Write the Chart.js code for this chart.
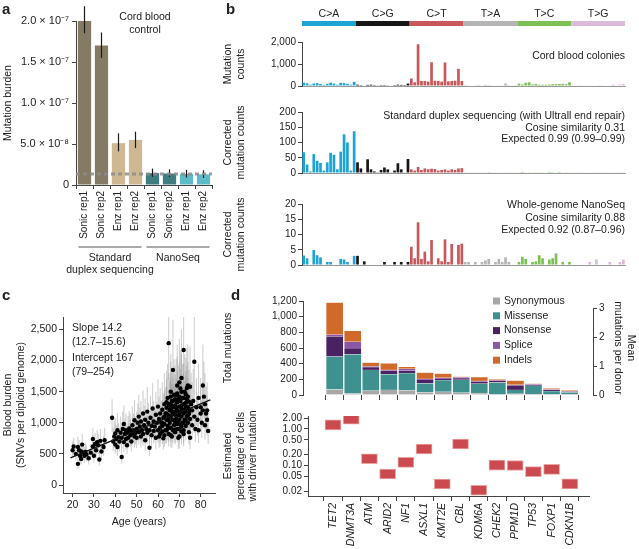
<!DOCTYPE html>
<html>
<head>
<meta charset="utf-8">
<script src="https://cdn.jsdelivr.net/npm/chart.js@4.4.1/dist/chart.umd.min.js"></script>
<style>
body { margin: 0; background: #fff; font-family: "Liberation Sans", Arial, sans-serif; color: #222; }
#fig { position: relative; width: 639px; height: 549px; overflow: hidden; }
canvas { position: absolute; }
.t { position: absolute; font-size: 10.5px; line-height: 13px; white-space: nowrap; }
.r { text-align: right; }
.p { position: absolute; font-weight: bold; font-size: 15px; line-height: 15px; }
</style>
</head>
<body>
<div id="fig">
  <canvas id="ca" width="220" height="285" style="left:0;top:0;width:220px;height:285px"></canvas>
  <canvas id="cb1" width="419" height="95" style="left:220px;top:0;width:419px;height:95px"></canvas>
  <canvas id="cb2" width="419" height="95" style="left:220px;top:95px;width:419px;height:95px"></canvas>
  <canvas id="cb3" width="419" height="95" style="left:220px;top:190px;width:419px;height:95px"></canvas>
  <canvas id="cc" width="220" height="245" style="left:0;top:285px;width:220px;height:245px"></canvas>
  <canvas id="cd1" width="419" height="118" style="left:220px;top:285px;width:419px;height:118px"></canvas>
  <canvas id="cd2" width="419" height="149" style="left:220px;top:400px;width:419px;height:149px"></canvas>

  <div class="p" style="left:2px;top:1px">a</div>
  <div class="p" style="left:226px;top:1px">b</div>
  <div class="p" style="left:2px;top:287px">c</div>
  <div class="p" style="left:231px;top:287px">d</div>

  <div class="t" style="left:100px;top:10px;width:90px;text-align:center">Cord blood<br>control</div>
  <div class="t r" style="right:14px;top:49px">Cord blood colonies</div>
  <div class="t r" style="right:14px;top:110px;line-height:11.7px">Standard duplex sequencing (with Ultrall end repair)<br>Cosine similarity 0.31<br>Expected 0.99 (0.99–0.99)</div>
  <div class="t r" style="right:14px;top:198px;line-height:12.5px">Whole-genome NanoSeq<br>Cosine similarity 0.88<br>Expected 0.92 (0.87–0.96)</div>
  <div class="t" style="left:72px;top:320px;line-height:14px">Slope 14.2<br>(12.7–15.6)</div>
  <div class="t" style="left:72px;top:350px;line-height:14px">Intercept 167<br>(79–254)</div>
</div>

<script>
// ---- panel a: mutation burden, cord blood control
const aLabels = ['Sonic rep1', 'Sonic rep2', 'Enz rep1', 'Enz rep2', 'Sonic rep1', 'Sonic rep2', 'Enz rep1', 'Enz rep2'];
const aBurden = [2.02e-7, 1.70e-7, 5.1e-8, 5.5e-8, 1.45e-8, 1.40e-8, 1.35e-8, 1.30e-8];
const aLow = [1.85e-7, 1.55e-7, 4.1e-8, 4.5e-8, 1.0e-8, 1.0e-8, 0.9e-8, 0.85e-8];
const aHigh = [2.18e-7, 1.86e-7, 6.3e-8, 6.5e-8, 2.0e-8, 1.9e-8, 1.85e-8, 1.8e-8];
const aColors = ['#857a64', '#857a64', '#cdb891', '#cdb891', '#3f7c80', '#3f7c80', '#5cbcc8', '#5cbcc8'];
const aTickLabels = ['0', '5.0 × 10⁻⁸', '1.0 × 10⁻⁷', '1.5 × 10⁻⁷', '2.0 × 10⁻⁷'];
const nanoSeqLevel = 1.35e-8;
const aGroups = [
  { from: 0, to: 3, text: ['Standard', 'duplex sequencing'] },
  { from: 4, to: 7, text: ['NanoSeq'] }
];

// ---- panel b: 96-channel spectra
const mutTypes = ['C>A', 'C>G', 'C>T', 'T>A', 'T>C', 'T>G'];
const typeColors = ['#1ea3d5', '#161616', '#c8585b', '#b5b5b5', '#7cc056', '#dbbadb'];
const cordCounts = [
  [150, 120, 60, 110, 130, 90, 50, 100, 150, 110, 60, 140, 130, 100, 60, 190],
  [60, 40, 20, 50, 60, 40, 30, 40, 40, 30, 20, 40, 60, 50, 40, 110],
  [340, 170, 1900, 230, 230, 200, 1080, 240, 230, 200, 1070, 210, 230, 240, 780, 230],
  [40, 30, 20, 30, 40, 30, 50, 40, 30, 20, 30, 30, 110, 40, 30, 40],
  [110, 70, 150, 170, 70, 90, 60, 60, 60, 70, 80, 80, 90, 100, 80, 170],
  [30, 20, 10, 30, 20, 30, 20, 20, 10, 30, 20, 20, 60, 30, 70, 100]
];
const duplexCounts = [
  [68, 28, 5, 62, 40, 33, 8, 35, 66, 60, 12, 70, 127, 100, 8, 137],
  [35, 15, 2, 45, 12, 5, 1, 10, 18, 12, 2, 8, 32, 12, 2, 46],
  [12, 8, 20, 10, 15, 12, 14, 13, 8, 10, 12, 8, 12, 10, 15, 16],
  [2, 1, 1, 2, 1, 1, 2, 3, 1, 1, 2, 1, 2, 1, 1, 2],
  [2, 3, 2, 1, 2, 1, 1, 2, 2, 3, 1, 2, 3, 2, 1, 2],
  [1, 1, 1, 1, 1, 2, 1, 1, 1, 1, 1, 1, 1, 1, 1, 1]
];
const nanoCounts = [
  [3.1, 2.2, 0, 4.9, 3.2, 2.5, 0, 1, 1, 0, 0, 2, 1.8, 1, 0, 3],
  [3, 0, 1.2, 0, 0, 0, 0, 0, 1, 0, 0, 1, 0, 1, 0, 1],
  [6, 2.2, 14, 2, 4.4, 1.2, 8.2, 0, 2.2, 1.2, 8.4, 1, 6.9, 0, 6.6, 7],
  [1, 1, 0, 1, 0, 1, 1.5, 2, 0, 1, 2, 1, 2.5, 1, 0, 0],
  [1, 2.7, 2, 0, 1, 1.2, 3.2, 2.2, 0, 1.8, 2.2, 3.8, 0, 1, 0, 1],
  [0, 0, 0, 0, 0, 1, 0, 1.8, 0, 0, 0, 1, 0, 0, 1, 1.8]
];
const bases = ['A', 'C', 'G', 'T'];

// ---- panel c: blood burden vs age  [age, burden, ciLow, ciHigh]
const cDonors = [
  [20,560,450,700],[20.5,620,500,760],[21.5,500,400,640],[22.5,340,260,470],[22.5,610,480,780],[23,560,440,720],[23.5,470,360,640],[24,420,330,560],[24,540,420,690],[24.5,650,510,820],[25,520,400,660],[25.5,470,360,610],[26,530,410,680],[26.5,490,380,640],[27.5,430,330,560],[28.5,520,400,660],[29.5,740,580,920],[29.5,620,480,800],[30,470,360,620],[30.5,660,510,840],[31,560,430,720],[31.5,690,540,880],[32,640,500,820],[32.5,410,310,560],[33,710,550,900],[33.5,540,420,700],[34.5,610,470,790],[35,720,560,920],
  [38.5,1080,850,1380],[39,700,540,920],[39.5,780,600,1020],[40,650,500,860],[40,830,640,1080],[40.5,740,570,960],[41,880,680,1150],[41,610,470,800],[41.5,770,600,1000],[42,700,540,920],[42.5,840,650,1100],[43,450,340,620],[43,760,590,990],[43.5,900,700,1180],[44,980,760,1280],[44,690,530,900],[44.5,820,640,1070],[45,880,680,1150],[45,740,570,970],[45.5,640,490,840],[46,850,660,1110],[46,760,590,990],[46.5,910,700,1190],[47,800,620,1050],[47,880,680,1150],[47.5,700,540,920],[48,830,640,1090],[48,960,740,1260],[48.5,880,680,1150],[49,780,600,1020],[49,1040,800,1370],[49.5,840,650,1100],[50,900,690,1180],[50,760,590,990],[50.5,1000,770,1310],
  [51,850,650,1120],[51,1100,850,1450],[51.5,940,720,1240],[52,780,600,1030],[52,1020,780,1350],[52.5,880,680,1160],[53,1150,880,1520],[53,820,630,1080],[53.5,960,740,1270],[54,720,550,950],[54,1050,810,1390],[54.5,900,690,1190],[55,840,650,1110],[55,1180,900,1570],[55.5,1000,770,1320],[56,600,460,800],[56,880,680,1160],[56.5,1080,830,1430],[57,950,730,1260],[57,800,620,1060],[57.5,1230,940,1640],[58,870,670,1150],[58,1020,780,1350],[58.5,940,720,1250],[59,760,580,1010],[59,1130,870,1500],[59.5,1000,770,1330],[60,880,680,1170],[60,1260,960,1700],[60.5,1060,810,1420],[60.5,780,600,1040],
  [61,1150,880,1560],[61,920,700,1240],[61.5,1000,760,1360],[62,1210,920,1650],[62,860,660,1160],[62.5,1080,820,1470],[62.5,750,570,1010],[63,1300,990,1800],[63,980,750,1330],[63.5,1150,880,1570],[63.5,880,670,1190],[64,1050,800,1430],[64,1240,940,1700],[64.5,950,720,1290],[64.5,1400,1060,1950],[65,2280,1700,2700],[65,1120,850,1540],[65,820,620,1110],[65.5,1200,910,1650],[65.5,1000,760,1370],[66,1300,990,1800],[66,920,700,1250],[66,1100,840,1510],[66.5,1180,900,1620],[66.5,780,590,1060],[67,1850,1400,2650],[67,1250,950,1720],[67,1050,800,1440],[67.5,1160,880,1600],[67.5,960,730,1310],[68,1380,1050,1920],[68,1130,860,1550],[68,890,680,1210],[68.5,1240,940,1710],[68.5,1060,810,1450],[69,1200,910,1650],[69,1470,1120,2060],[69,980,750,1340],[69.5,1120,850,1540],[69.5,760,580,1030],[70,1650,1250,2350],[70,1260,960,1740],[70,1050,800,1440],[70,900,690,1230],[70.5,1180,900,1630],[70.5,1350,1030,1870],[71,1720,1300,2500],[71,1100,840,1510],[71,1230,940,1700],[71.5,1000,760,1370],[71.5,1400,1060,1950],[72,2170,1650,2700],[72,1150,880,1580],[72,1300,990,1800],[72,880,670,1200],[72.5,1210,920,1670],[72.5,1050,800,1440],[73,1460,1110,2040],[73,1180,900,1620],[73,950,720,1300],[73.5,1560,1180,2200],[73.5,1100,840,1510],[74,1600,1210,2260],[74,1250,950,1720],[74,1000,760,1370],[74.5,1340,1020,1850],[74.5,850,650,1160],[75,1580,1200,2230],[75,1200,910,1650],[75,1060,810,1450],[75,760,580,1030],[75.5,1300,990,1800],
  [63,1100,840,1510],[64,1150,870,1580],[65,1300,990,1800],[66,1220,930,1680],[67,1350,1030,1870],[68,1280,970,1770],[69,1330,1010,1840],[70,1150,870,1580],[71,1280,970,1770],[72,1400,1060,1950],[73,1320,1000,1830],[74,1120,850,1540],[68,1020,780,1400],[70,1420,1080,1980],[66,1420,1080,1980],[69,1050,800,1440],[71,940,720,1280],[73,1050,800,1440],[65,1050,800,1440],[67,1150,870,1580],[64,1330,1010,1840],[62,1000,760,1370],[70,980,750,1340],[72,1000,760,1370],[68,1180,900,1620],[74,1420,1080,1980],[71,1500,1140,2100],[69,1600,1220,2250],[66,1500,1140,2100],[73,1260,960,1740],[66,800,610,1090],[68,850,650,1160],[70,780,590,1060],[72,820,620,1120],[61,820,620,1110],[63,800,610,1090],[65,920,700,1250],[67,880,670,1200],[69,900,690,1230],[71,860,650,1170],[62,950,720,1290],[64,880,670,1200],
  [67.5,1450,1100,2020],[70.5,1550,1180,2170],[72.5,1500,1140,2100],[74.5,1150,870,1580],[66.5,1350,1030,1870],[69.5,1380,1050,1920],[71.5,1200,910,1650],[73.5,1380,1050,1920],[65.5,1250,950,1720],[68.5,1450,1100,2020],
  [76,1200,910,1650],[76,960,730,1310],[76.5,1350,1030,1870],[77,1980,1500,2700],[77,1100,840,1510],[77.5,900,690,1230],[78,1250,950,1720],[78.5,1050,800,1440],[79,1400,1060,1950],[79,880,670,1200],[80,1150,870,1580],[80,1250,950,1720],[80.5,1000,760,1370],[81,1600,1210,2260],[81,1200,910,1650],[81.5,1420,1080,1980],[82,960,730,1310],[82,1300,990,1800],[82.5,1150,870,1580],[83,1200,910,1650],[83,1050,800,1440],[83.5,870,660,1190]
];
const cFit = [[19, 437], [84.5, 1367]];
const cAgeTicks = [20, 30, 40, 50, 60, 70, 80];
const cBurdenTicks = [0, 500, 1000, 1500, 2000, 2500];

// ---- panel d: driver genes
const genes = ['TET2', 'DNMT3A', 'ATM', 'ARID2', 'NF1', 'ASXL1', 'KMT2E', 'CBL', 'KDM6A', 'CHEK2', 'PPM1D', 'TP53', 'FOXP1', 'CDKN1B'];
const mutClasses = ['Synonymous', 'Missense', 'Nonsense', 'Splice', 'Indels'];
const classColors = ['#a8a8a8', '#3f918f', '#4a2161', '#8b55a8', '#d06a2b'];
const synonymous = [70, 20, 55, 65, 60, 35, 40, 30, 25, 10, 15, 10, 10, 10];
const missense = [420, 500, 265, 200, 220, 115, 150, 165, 120, 150, 50, 110, 40, 25];
const nonsense = [260, 80, 35, 45, 30, 45, 15, 20, 25, 20, 55, 10, 15, 5];
const splice = [20, 80, 10, 10, 25, 10, 15, 10, 10, 5, 10, 5, 5, 5];
const indels = [410, 140, 50, 85, 25, 80, 55, 10, 50, 15, 55, 10, 15, 15];
const meanScale = 368;   // total mutations per 1 mean mutation per donor
const meanTicks = [0, 1, 2, 3];
const cellLow = [0.95, 1.35, 0.112, 0.043, 0.089, 0.207, 0.0227, 0.283, 0.0153, 0.075, 0.073, 0.0494, 0.0573, 0.0228];
const cellHigh = [1.77, 2.53, 0.21, 0.08, 0.167, 0.388, 0.0426, 0.532, 0.0286, 0.141, 0.137, 0.0927, 0.1075, 0.0429];
const cellTicks = [0.02, 0.05, 0.1, 0.2, 0.5, 1, 2];

// ---- shared defaults
Chart.defaults.font.family = '"Liberation Sans", Arial, sans-serif';
Chart.defaults.font.size = 10;
Chart.defaults.color = '#222';
Chart.defaults.plugins.legend.display = false;
Chart.defaults.plugins.tooltip.enabled = false;
Chart.defaults.animation = false;
Chart.defaults.responsive = false;
Chart.defaults.events = [];

const axisCol = '#444';
const fmt = v => v.toLocaleString('en-US');
const tickGrid = { drawOnChartArea: false, tickLength: 4, color: axisCol, lineWidth: 1 };
const title = (text) => ({ display: true, text: text, font: { size: 10.5 }, padding: { top: 2, bottom: 2 } });

// panel a
const aExtras = {
  id: 'aExtras',
  afterDatasetsDraw(chart) {
    const { ctx, chartArea, scales: { x, y } } = chart;
    ctx.save();
    ctx.strokeStyle = '#1a1a1a';
    ctx.lineWidth = 1.2;
    aLow.forEach((lo, i) => {
      const px = x.getPixelForValue(i);
      ctx.beginPath();
      ctx.moveTo(px, y.getPixelForValue(lo));
      ctx.lineTo(px, y.getPixelForValue(aHigh[i]));
      ctx.stroke();
    });
    ctx.strokeStyle = 'rgba(140,140,140,0.85)';
    ctx.lineWidth = 3;
    ctx.setLineDash([4, 3]);
    const ny = y.getPixelForValue(nanoSeqLevel);
    ctx.beginPath();
    ctx.moveTo(chartArea.left, ny);
    ctx.lineTo(chartArea.right, ny);
    ctx.stroke();
    ctx.setLineDash([]);
    // group brackets under the labels
    ctx.strokeStyle = '#555';
    ctx.lineWidth = 1;
    ctx.fillStyle = '#222';
    ctx.font = '10.5px "Liberation Sans", Arial, sans-serif';
    ctx.textAlign = 'center';
    ctx.textBaseline = 'middle';
    const ly = chartArea.bottom + 62;
    aGroups.forEach(g => {
      const x0 = x.getPixelForValue(g.from) - 6, x1 = x.getPixelForValue(g.to) + 6;
      ctx.beginPath();
      ctx.moveTo(x0, ly);
      ctx.lineTo(x1, ly);
      ctx.stroke();
      g.text.forEach((t, k) => ctx.fillText(t, (x0 + x1) / 2, ly + 11 + k * 12));
    });
    ctx.restore();
  }
};

new Chart(document.getElementById('ca'), {
  type: 'bar',
  data: { labels: aLabels, datasets: [{ data: aBurden, backgroundColor: aColors, barPercentage: 0.78, categoryPercentage: 1 }] },
  options: {
    layout: { padding: { top: 21, right: 8, left: 0, bottom: 0 }, autoPadding: false },
    scales: {
      x: {
        grid: tickGrid, border: { color: axisCol },
        ticks: { minRotation: 90, maxRotation: 90, autoSkip: false, padding: 2 },
        afterFit: s => { s.height = 100; }
      },
      y: {
        min: 0, max: 2e-7,
        afterBuildTicks: s => { s.ticks = aTickLabels.map((t, i) => ({ value: i * 5e-8 })); },
        ticks: { callback: (v, i) => aTickLabels[i], padding: 3, autoSkip: false, font: { size: 11 } },
        grid: tickGrid, border: { color: axisCol },
        title: title('Mutation burden'),
        afterFit: s => { s.width = 76; }
      }
    }
  },
  plugins: [aExtras]
});

// panel b
const contexts = [];
mutTypes.forEach(t => bases.forEach(b5 => bases.forEach(b3 => contexts.push(b5 + '[' + t + ']' + b3))));
const barColors = contexts.map((c, i) => typeColors[Math.floor(i / 16)]);

const strip = {
  id: 'strip',
  afterDraw(chart) {
    const { ctx, scales: { x } } = chart;
    const half = (x.getPixelForValue(1) - x.getPixelForValue(0)) / 2;
    ctx.save();
    ctx.font = '10.5px "Liberation Sans", Arial, sans-serif';
    ctx.textAlign = 'center';
    ctx.textBaseline = 'middle';
    mutTypes.forEach((t, k) => {
      const x0 = x.getPixelForValue(k * 16) - half, x1 = x.getPixelForValue(k * 16 + 15) + half;
      ctx.fillStyle = typeColors[k];
      ctx.fillRect(x0, 21, x1 - x0, 5);
      ctx.fillStyle = '#222';
      ctx.fillText(t, (x0 + x1) / 2, 14);
    });
    ctx.restore();
  }
};

function spectrum(id, values, yMax, step, padTop, xH, yTitle, extra) {
  return new Chart(document.getElementById(id), {
    type: 'bar',
    data: { labels: contexts, datasets: [{ data: values.flat(), backgroundColor: barColors, barPercentage: 0.8, categoryPercentage: 1 }] },
    options: {
      layout: { padding: { top: padTop, right: 14, left: 0, bottom: 0 }, autoPadding: false },
      scales: {
        x: { grid: { display: false }, border: { display: true, color: '#999' }, ticks: { display: false }, afterFit: s => { s.height = xH; } },
        y: {
          min: 0, max: yMax, ticks: { stepSize: step, padding: 2, callback: fmt, autoSkip: false },
          grid: tickGrid, border: { color: axisCol },
          title: title(yTitle),
          afterFit: s => { s.width = 82; }
        }
      }
    },
    plugins: extra ? [extra] : []
  });
}
spectrum('cb1', cordCounts, 2000, 1000, 42, 9, ['Mutation', 'counts'], strip);
spectrum('cb2', duplexCounts, 200, 50, 17, 17, ['Corrected', 'mutation counts']);
spectrum('cb3', nanoCounts, 20, 5, 14, 20, ['Corrected', 'mutation counts']);

// panel c
const cErrors = {
  id: 'cErrors',
  beforeDatasetsDraw(chart) {
    const { ctx, chartArea, scales: { x, y } } = chart;
    ctx.save();
    ctx.beginPath();
    ctx.rect(chartArea.left, chartArea.top, chartArea.right - chartArea.left, chartArea.bottom - chartArea.top);
    ctx.clip();
    ctx.strokeStyle = 'rgba(150,150,150,0.45)';
    ctx.lineWidth = 1.1;
    cDonors.forEach(d => {
      const px = x.getPixelForValue(d[0]);
      ctx.beginPath();
      ctx.moveTo(px, y.getPixelForValue(d[2]));
      ctx.lineTo(px, y.getPixelForValue(d[3]));
      ctx.stroke();
    });
    ctx.restore();
  }
};

new Chart(document.getElementById('cc'), {
  type: 'scatter',
  data: {
    datasets: [
      { type: 'line', data: cFit.map(p => ({ x: p[0], y: p[1] })), borderColor: '#111', borderWidth: 1.3, pointRadius: 0 },
      { data: cDonors.map(d => ({ x: d[0], y: d[1] })), backgroundColor: '#000', borderWidth: 0, pointRadius: 2.2 }
    ]
  },
  options: {
    layout: { padding: { top: 32, right: 5, left: 0, bottom: 0 }, autoPadding: false },
    scales: {
      x: {
        type: 'linear', min: 15.5, max: 86.7,
        afterBuildTicks: s => { s.ticks = cAgeTicks.map(v => ({ value: v })); },
        ticks: { padding: 2, autoSkip: false, font: { size: 10.5 } },
        grid: tickGrid, border: { color: axisCol },
        title: title('Age (years)'),
        afterFit: s => { s.height = 37; }
      },
      y: {
        min: -128, max: 2700,
        afterBuildTicks: s => { s.ticks = cBurdenTicks.map(v => ({ value: v })); },
        ticks: { callback: fmt, padding: 2, autoSkip: false, font: { size: 10.5 } },
        grid: tickGrid, border: { color: axisCol },
        title: title(['Blood burden', '(SNVs per diploid genome)']),
        afterFit: s => { s.width = 63; }
      }
    }
  },
  plugins: [cErrors]
});

// panel d, top
const dExtras = {
  id: 'dExtras',
  afterDraw(chart) {
    const { ctx, chartArea, scales: { y2 } } = chart;
    ctx.save();
    ctx.strokeStyle = axisCol;
    ctx.lineWidth = 1;
    ctx.beginPath();
    ctx.moveTo(chartArea.right + 0.5, y2.getPixelForValue(0));
    ctx.lineTo(chartArea.right + 0.5, y2.getPixelForValue(meanTicks[meanTicks.length - 1]));
    ctx.stroke();
    ctx.font = '10.5px "Liberation Sans", Arial, sans-serif';
    ctx.textBaseline = 'middle';
    chart.data.datasets.forEach((ds, k) => {
      const ly = 16 + k * 14.8;
      ctx.fillStyle = ds.backgroundColor;
      ctx.fillRect(273, ly - 3.5, 7, 7);
      ctx.fillStyle = '#222';
      ctx.fillText(ds.label, 284, ly);
    });
    ctx.restore();
  }
};

const classCounts = [synonymous, missense, nonsense, splice, indels];
new Chart(document.getElementById('cd1'), {
  type: 'bar',
  data: {
    datasets: mutClasses.map((name, k) => ({
      label: name,
      data: classCounts[k].map((v, i) => ({ x: i, y: v })),
      backgroundColor: classColors[k],
      borderColor: 'rgba(255,255,255,0.6)',
      borderWidth: 0.5,
      barThickness: 17
    }))
  },
  options: {
    layout: { padding: { top: 16, right: 0, left: 0, bottom: 0 }, autoPadding: false },
    scales: {
      x: {
        type: 'linear', min: -1.18, max: 13.72, stacked: true,
        afterBuildTicks: s => { s.ticks = genes.map((g, i) => ({ value: i })); },
        ticks: { display: false },
        grid: { drawOnChartArea: false, tickLength: 5, color: axisCol },
        border: { display: false },
        afterFit: s => { s.height = 6; }
      },
      y: {
        stacked: true, min: 0, max: 1200,
        ticks: { stepSize: 200, callback: fmt, padding: 2, autoSkip: false },
        grid: tickGrid, border: { color: axisCol },
        title: title('Total mutations'),
        afterFit: s => { s.width = 83; }
      },
      y2: {
        position: 'right', min: 0, max: 1200 / meanScale,
        afterBuildTicks: s => { s.ticks = meanTicks.map(v => ({ value: v })); },
        ticks: { padding: 2, autoSkip: false },
        grid: tickGrid, border: { display: false },
        title: title(['Mean', 'mutations per donor']),
        afterFit: s => { s.width = 46; }
      }
    }
  },
  plugins: [dExtras]
});

// panel d, bottom
new Chart(document.getElementById('cd2'), {
  type: 'bar',
  data: {
    datasets: [{
      data: genes.map((g, i) => ({ x: i, y: [cellLow[i], cellHigh[i]] })),
      backgroundColor: '#cb4a50', borderColor: '#eba3a3', borderWidth: 1, borderSkipped: false,
      barThickness: 16
    }]
  },
  options: {
    layout: { padding: { top: 16, right: 50, left: 0, bottom: 0 }, autoPadding: false },
    scales: {
      x: {
        type: 'linear', min: -0.82, max: 13.5,
        afterBuildTicks: s => { s.ticks = genes.map((g, i) => ({ value: i })); },
        ticks: { autoSkip: false, minRotation: 90, maxRotation: 90, padding: 2, callback: v => genes[v], font: { style: 'italic', size: 10.5 } },
        grid: { drawOnChartArea: false, tickLength: 5, color: axisCol },
        border: { color: axisCol },
        afterFit: s => { s.height = 53; }
      },
      y: {
        type: 'logarithmic', min: 0.0146, max: 2.27,
        afterBuildTicks: s => { s.ticks = cellTicks.map(v => ({ value: v })); },
        ticks: { callback: v => v.toFixed(2), padding: 2, autoSkip: false },
        grid: tickGrid, border: { color: axisCol },
        title: title(['Estimated', 'percentage of cells', 'with driver mutation']),
        afterFit: s => { s.width = 88; }
      }
    }
  }
});
</script>
</body>
</html>
